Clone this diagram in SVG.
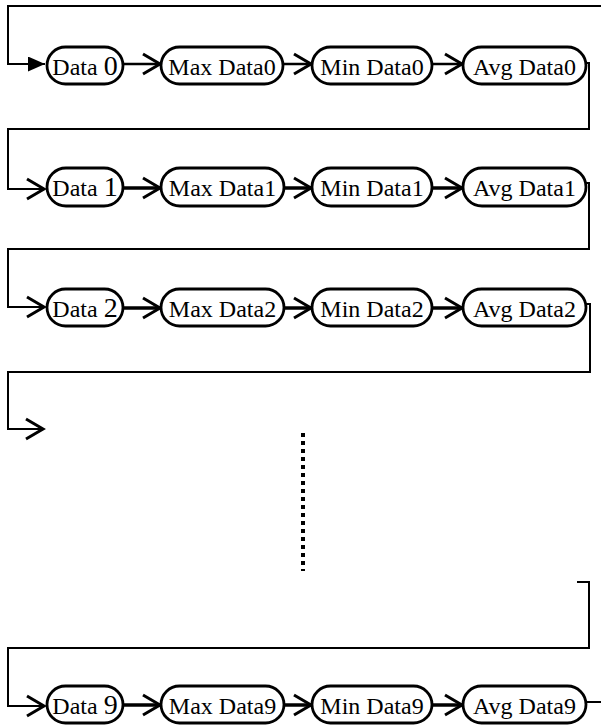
<svg xmlns="http://www.w3.org/2000/svg" width="601" height="726" viewBox="0 0 601 726">
<style>
.node rect{fill:#fff;stroke:#000;stroke-width:2.8}
.node text{font-family:"Liberation Serif","Times New Roman",serif;font-size:24px;fill:#000;text-anchor:middle}
.big{font-size:28px}
.loop{fill:none;stroke:#000;stroke-width:2}
.a0{fill:none;stroke:#000;stroke-width:2.5;marker-end:url(#v)}
.a1{fill:none;stroke:#000;stroke-width:3.5;marker-end:url(#v)}
.in{fill:none;stroke:#000;stroke-width:2;marker-end:url(#v)}
</style>
<defs>
<marker id="v" viewBox="0 0 20 22" markerWidth="20" markerHeight="22" refX="18" refY="11" orient="auto" markerUnits="userSpaceOnUse" overflow="visible">
<path d="M1,1 L18,11 L1,21" fill="none" stroke="#000" stroke-width="3" stroke-linejoin="miter"/>
</marker>
<marker id="f" viewBox="0 0 17 15" markerWidth="17" markerHeight="15" refX="17" refY="7.5" orient="auto" markerUnits="userSpaceOnUse">
<path d="M0,0 L17,7.5 L0,15 z" fill="#000"/>
</marker>
</defs>
<g id="connectors">
<path class="loop" d="M601,6 H8 V64 H45" marker-end="url(#f)"/>
<path class="a0" d="M123,64 H160"/>
<path class="a0" d="M283,64 H311"/>
<path class="a0" d="M432,64 H462"/>
<path class="loop" d="M586,63 H589 V129 H8 V189 H24"/>
<path class="in" d="M24,189 H44"/>
<path class="a1" d="M123,188 H160"/>
<path class="a1" d="M284,188 H311"/>
<path class="a1" d="M432,188 H462"/>
<path class="loop" d="M586,183 H589 V249 H8 V307 H24"/>
<path class="in" d="M24,307 H44"/>
<path class="a1" d="M123,308 H160"/>
<path class="a1" d="M284,308 H311"/>
<path class="a1" d="M432,308 H462"/>
<path class="loop" d="M586,304 H590 V372 H8 V429 H24"/>
<path class="in" d="M24,429 H43"/>
<line x1="303" y1="433" x2="303" y2="571" stroke="#000" stroke-width="4" stroke-dasharray="4 4"/>
<path class="loop" d="M577,582 H589 V648 H8 V706 H24"/>
<path class="in" d="M24,706 H44"/>
<path class="a1" d="M123,705 H160"/>
<path class="a1" d="M284,705 H311"/>
<path class="a1" d="M432,705 H462"/>
<path class="loop" d="M586,702 H601" stroke-width="2.5"/>
</g>
<g id="data0" class="node"><rect x="47" y="47" width="76" height="37" rx="18.5"/><text x="85" y="75">Data <tspan class="big">0</tspan></text></g>
<g id="max0" class="node"><rect x="161" y="47" width="122" height="37" rx="18.5"/><text x="222" y="75">Max Data0</text></g>
<g id="min0" class="node"><rect x="312" y="47" width="120" height="37" rx="18.5"/><text x="372" y="75">Min Data0</text></g>
<g id="avg0" class="node"><rect x="463" y="47" width="123" height="37" rx="18.5"/><text x="524.5" y="75">Avg Data0</text></g>

<g id="data1" class="node"><rect x="47" y="168" width="76" height="38" rx="19"/><text x="85" y="196">Data <tspan class="big">1</tspan></text></g>
<g id="max1" class="node"><rect x="161" y="168" width="123" height="38" rx="19"/><text x="222.5" y="196">Max Data1</text></g>
<g id="min1" class="node"><rect x="312" y="168" width="120" height="38" rx="19"/><text x="372" y="196">Min Data1</text></g>
<g id="avg1" class="node"><rect x="463" y="168" width="123" height="38" rx="19"/><text x="524.5" y="196">Avg Data1</text></g>

<g id="data2" class="node"><rect x="47" y="289" width="76" height="37" rx="18.5"/><text x="85" y="317">Data <tspan class="big">2</tspan></text></g>
<g id="max2" class="node"><rect x="161" y="289" width="123" height="37" rx="18.5"/><text x="222.5" y="317">Max Data2</text></g>
<g id="min2" class="node"><rect x="312" y="289" width="120" height="37" rx="18.5"/><text x="372" y="317">Min Data2</text></g>
<g id="avg2" class="node"><rect x="463" y="289" width="123" height="37" rx="18.5"/><text x="524.5" y="317">Avg Data2</text></g>

<g id="data9" class="node"><rect x="47" y="686" width="76" height="37" rx="18.5"/><text x="85" y="714">Data <tspan class="big">9</tspan></text></g>
<g id="max9" class="node"><rect x="161" y="686" width="123" height="37" rx="18.5"/><text x="222.5" y="714">Max Data9</text></g>
<g id="min9" class="node"><rect x="312" y="686" width="120" height="37" rx="18.5"/><text x="372" y="714">Min Data9</text></g>
<g id="avg9" class="node"><rect x="463" y="686" width="123" height="37" rx="18.5"/><text x="524.5" y="714">Avg Data9</text></g>
</svg>
